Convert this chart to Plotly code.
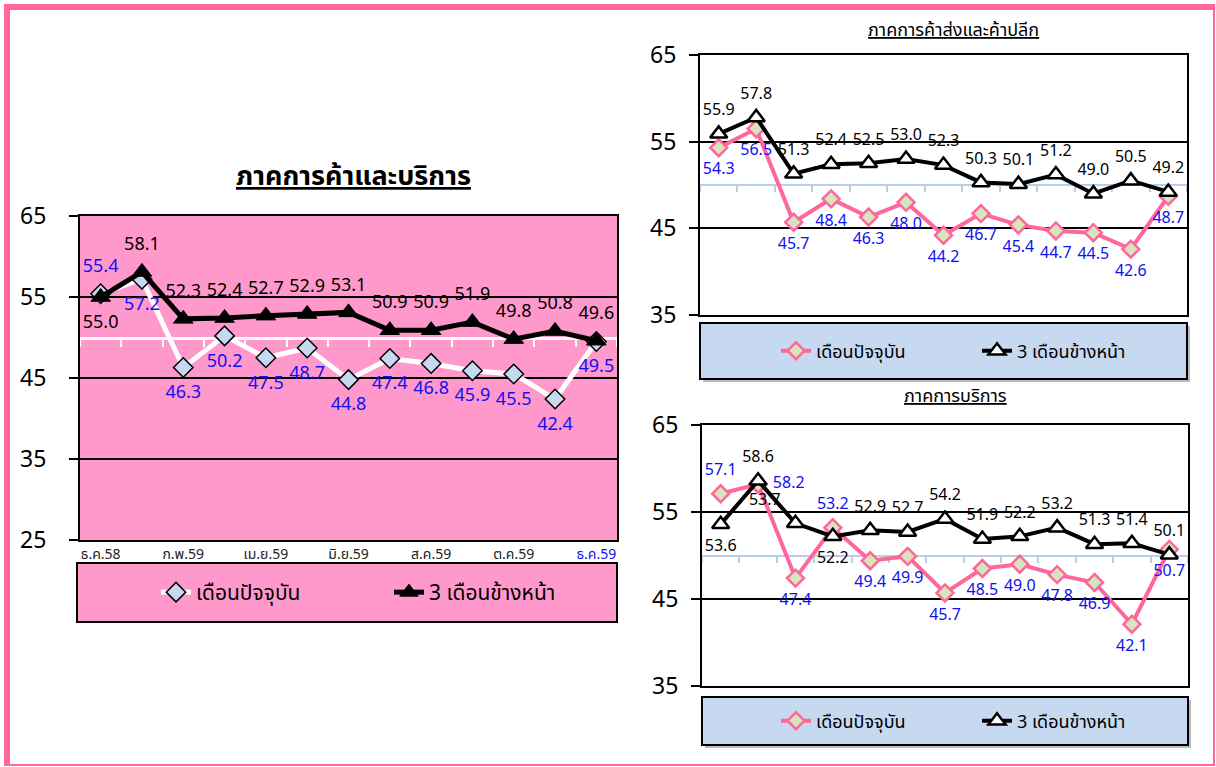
import plotly.graph_objects as go

# ---------------- data ----------------
months = ["ธ.ค.58", "ม.ค.59", "ก.พ.59", "มี.ค.59", "เม.ย.59", "พ.ค.59", "มิ.ย.59",
          "ก.ค.59", "ส.ค.59", "ก.ย.59", "ต.ค.59", "พ.ย.59", "ธ.ค.59"]
tick_idx = [0, 2, 4, 6, 8, 10, 12]

legend_now = "เดือนปัจจุบัน"
legend_next = "3 เดือนข้างหน้า"

title_all = "ภาคการค้าและบริการ"
title_trade = "ภาคการค้าส่งและค้าปลีก"
title_service = "ภาคการบริการ"

all_now = [55.4, 57.2, 46.3, 50.2, 47.5, 48.7, 44.8, 47.4, 46.8, 45.9, 45.5, 42.4, 49.5]
all_next = [55.0, 58.1, 52.3, 52.4, 52.7, 52.9, 53.1, 50.9, 50.9, 51.9, 49.8, 50.8, 49.6]

trade_now = [54.3, 56.5, 45.7, 48.4, 46.3, 48.0, 44.2, 46.7, 45.4, 44.7, 44.5, 42.6, 48.7]
trade_next = [55.9, 57.8, 51.3, 52.4, 52.5, 53.0, 52.3, 50.3, 50.1, 51.2, 49.0, 50.5, 49.2]

serv_now = [57.1, 58.2, 47.4, 53.2, 49.4, 49.9, 45.7, 48.5, 49.0, 47.8, 46.9, 42.1, 50.7]
serv_next = [53.6, 58.6, 53.7, 52.2, 52.9, 52.7, 54.2, 51.9, 52.2, 53.2, 51.3, 51.4, 50.1]

# label placement (T = above, B = below, R = right, TL = above-left)
all_now_pos = ["T"] + ["B"] * 12
all_next_pos = ["B"] + ["T"] * 12
trade_now_pos = ["B"] * 13
trade_next_pos = ["T"] * 13
serv_now_pos = ["T", "R", "B", "T", "B", "B", "B", "B", "B", "B", "B", "B", "B"]
serv_next_pos = ["B", "T", "TL", "B", "T", "T", "T", "T", "T", "T", "T", "T", "T"]

# ---------------- layout helpers ----------------
W, H = 1216, 767
def px(x): return x / W
def py(y): return 1 - y / H

FONT = "Tahoma, 'Noto Sans Thai', 'Noto Sans', 'DejaVu Sans', sans-serif"
PINK = "#FF6699"
PINK_BG = "#FF99CC"
LBLUE = "#C6D9F0"
BLUE_TXT = "#1010F0"
POSMAP = {"T": "top center", "B": "bottom center", "R": "middle right", "TL": "top left"}

xs = list(range(len(months)))

panels = [
    dict(key="", xdom=[px(80), px(617)], ydom=[py(540), py(216)], yr=[25, 65],
         yt=[25, 35, 45, 55, 65], now=all_now, nxt=all_next,
         npos=all_now_pos, xpos=all_next_pos, big=True),
    dict(key="2", xdom=[px(700), px(1187)], ydom=[py(315), py(55)], yr=[35, 65],
         yt=[35, 45, 55, 65], now=trade_now, nxt=trade_next,
         npos=trade_now_pos, xpos=trade_next_pos, big=False),
    dict(key="3", xdom=[px(702), px(1188)], ydom=[py(686), py(425)], yr=[35, 65],
         yt=[35, 45, 55, 65], now=serv_now, nxt=serv_next,
         npos=serv_now_pos, xpos=serv_next_pos, big=False),
]

fig = go.Figure()
layout = dict(template="none", width=W, height=H, autosize=False,
              margin=dict(l=0, r=0, t=0, b=0, pad=0, autoexpand=False),
              paper_bgcolor="white", plot_bgcolor="rgba(0,0,0,0)",
              font=dict(family=FONT, color="black"), showlegend=True)
shapes = []
annotations = []

for i, p in enumerate(panels):
    k = p["key"]
    xa = "x" + k
    ya = "y" + k
    ovk = str(4 + i)
    xo = "x" + ovk
    leg = "legend" + k
    big = p["big"]
    if big:
        now_line = dict(color="white", width=5)
        now_marker = dict(symbol="diamond", size=15, color=LBLUE, line=dict(color="black", width=1.5))
        nxt_line = dict(color="black", width=5)
        nxt_marker = dict(symbol="triangle-up", size=17, color="black", line=dict(color="black", width=1))
        lab_size = 18
        lab_off = 26
    else:
        now_line = dict(color=PINK, width=4)
        now_marker = dict(symbol="diamond", size=13, color="#D7E4BD", line=dict(color=PINK, width=2.5))
        nxt_line = dict(color="black", width=4)
        nxt_marker = dict(symbol="triangle-up", size=15, color="white", line=dict(color="black", width=2.5))
        lab_size = 16
        lab_off = 22

    fig.add_trace(go.Scatter(x=xs, y=p["now"], mode="lines+markers", name=legend_now,
                             line=now_line, marker=now_marker, xaxis=xa, yaxis=ya,
                             legend=leg, hoverinfo="skip"))
    fig.add_trace(go.Scatter(x=xs, y=p["nxt"], mode="lines+markers", name=legend_next,
                             line=nxt_line, marker=nxt_marker, xaxis=xa, yaxis=ya,
                             legend=leg, hoverinfo="skip"))
    # data labels live on the overlay axis (same scale) so that axis gets drawn
    fig.add_trace(go.Scatter(x=xs, y=p["now"], mode="markers+text",
                             text=[f"{v:.1f}" for v in p["now"]],
                             textposition=[POSMAP[s] for s in p["npos"]],
                             textfont=dict(color=BLUE_TXT, size=lab_size, family=FONT),
                             marker=dict(size=lab_off, opacity=0),
                             xaxis=xo, yaxis=ya, showlegend=False, hoverinfo="skip"))
    fig.add_trace(go.Scatter(x=xs, y=p["nxt"], mode="markers+text",
                             text=[f"{v:.1f}" for v in p["nxt"]],
                             textposition=[POSMAP[s] for s in p["xpos"]],
                             textfont=dict(color="black", size=lab_size, family=FONT),
                             marker=dict(size=lab_off, opacity=0),
                             xaxis=xo, yaxis=ya, showlegend=False, hoverinfo="skip"))

    # main axes
    if big:
        ticktext = [months[j] for j in tick_idx]
        ticktext[-1] = f"<span style='color:#1010F0'>{ticktext[-1]}</span>"
        xaxis = dict(domain=p["xdom"], anchor=ya, range=[-0.5, 12.5], showgrid=False,
                     zeroline=False, showline=True, linecolor="black", linewidth=2, mirror=True,
                     tickmode="array", tickvals=tick_idx, ticktext=ticktext, ticks="",
                     automargin=False,
                     tickfont=dict(size=14, color="#222", family=FONT))
    else:
        xaxis = dict(domain=p["xdom"], anchor=ya, range=[-0.5, 12.5], showgrid=False,
                     zeroline=False, showline=True, linecolor="black", linewidth=2, mirror=True,
                     showticklabels=False, ticks="", automargin=False)
    yaxis = dict(domain=p["ydom"], anchor=xa, range=p["yr"], tickmode="array", tickvals=p["yt"],
                 showgrid=True, gridcolor="black", gridwidth=1.5, zeroline=False,
                 showline=True, linecolor="black", linewidth=2, mirror=True,
                 ticks="outside", ticklen=9, tickcolor="black", tickwidth=1.5,
                 ticklabelstandoff=18 if big else 8, automargin=False,
                 tickfont=dict(size=23, color="black", family=FONT))
    layout["xaxis" + k] = xaxis
    layout["yaxis" + k] = yaxis

    # axis-crossing line at 50 (overlay axis)
    y0, y1 = p["ydom"]
    pos50 = y0 + (50 - p["yr"][0]) / (p["yr"][1] - p["yr"][0]) * (y1 - y0)
    lc = "white" if big else "#B9CDE5"
    layout["xaxis" + ovk] = dict(overlaying=xa, matches=xa, anchor="free", position=pos50,
                                 domain=p["xdom"], showgrid=False, zeroline=False,
                                 showline=True, linecolor=lc, linewidth=3 if big else 2,
                                 tickmode="linear", tick0=-0.5, dtick=1, ticks="outside",
                                 ticklen=7 if big else 6, tickwidth=2 if big else 1.5,
                                 tickcolor=lc, showticklabels=False, layer="below traces",
                                 automargin=False)

    if big:
        shapes.append(dict(type="rect", xref=xa + " domain", yref=ya + " domain",
                           x0=0, x1=1, y0=0, y1=1, fillcolor=PINK_BG, line=dict(width=0),
                           layer="below"))

# legends & legend boxes
legend_cfg = [
    dict(key="legend", box=(77, 563, 617, 622), fill=PINK_BG, size=21, ew=188, lx=156),
    dict(key="legend2", box=(700, 323, 1187, 379), fill=LBLUE, size=18, ew=156, lx=776),
    dict(key="legend3", box=(702, 697, 1188, 745), fill=LBLUE, size=18, ew=156, lx=776),
]
for j, lg in enumerate(legend_cfg):
    x0, y0b, x1, y1b = lg["box"]
    if j > 0:
        shapes.append(dict(type="rect", xref="paper", yref="paper",
                           x0=px(x0 + 3), x1=px(x1 + 3), y0=py(y1b + 3), y1=py(y0b + 3),
                           fillcolor="#BBBBBB", line=dict(width=0), layer="below"))
    shapes.append(dict(type="rect", xref="paper", yref="paper",
                       x0=px(x0), x1=px(x1), y0=py(y1b), y1=py(y0b),
                       fillcolor=lg["fill"], line=dict(color="black", width=2), layer="below"))
    layout[lg["key"]] = dict(orientation="h", x=px(lg["lx"]), y=py((y0b + y1b) / 2),
                             xanchor="left", yanchor="middle", bgcolor="rgba(0,0,0,0)",
                             borderwidth=0, entrywidth=lg["ew"], entrywidthmode="pixels",
                             font=dict(size=lg["size"], color="black", family=FONT))

# titles
annotations.append(dict(text=f"<b><u>{title_all}</u></b>", xref="paper", yref="paper",
                        x=px(353), y=py(176), showarrow=False, xanchor="center", yanchor="middle",
                        font=dict(size=27, color="black", family=FONT)))
annotations.append(dict(text=f"<u>{title_trade}</u>", xref="paper", yref="paper",
                        x=px(953), y=py(31), showarrow=False, xanchor="center", yanchor="middle",
                        font=dict(size=18, color="black", family=FONT)))
annotations.append(dict(text=f"<u>{title_service}</u>", xref="paper", yref="paper",
                        x=px(955), y=py(396), showarrow=False, xanchor="center", yanchor="middle",
                        font=dict(size=18, color="black", family=FONT)))

# outer pink frame
shapes.append(dict(type="rect", xref="paper", yref="paper", x0=px(5), x1=px(1214),
                   y0=py(765), y1=py(5), line=dict(color=PINK, width=2), fillcolor="rgba(0,0,0,0)"))
shapes.append(dict(type="line", xref="paper", yref="paper", x0=px(7), x1=px(7),
                   y0=py(766), y1=py(4), line=dict(color=PINK, width=6)))
shapes.append(dict(type="line", xref="paper", yref="paper", x0=px(4), x1=px(1215),
                   y0=py(7), y1=py(7), line=dict(color=PINK, width=6)))

layout["shapes"] = shapes
layout["annotations"] = annotations
fig.update_layout(**layout)
fig.write_html("out.html", config={"displayModeBar": False},
               post_script="document.body.style.margin='0';document.body.style.padding='0';"
                           "document.documentElement.style.overflow='hidden';")
